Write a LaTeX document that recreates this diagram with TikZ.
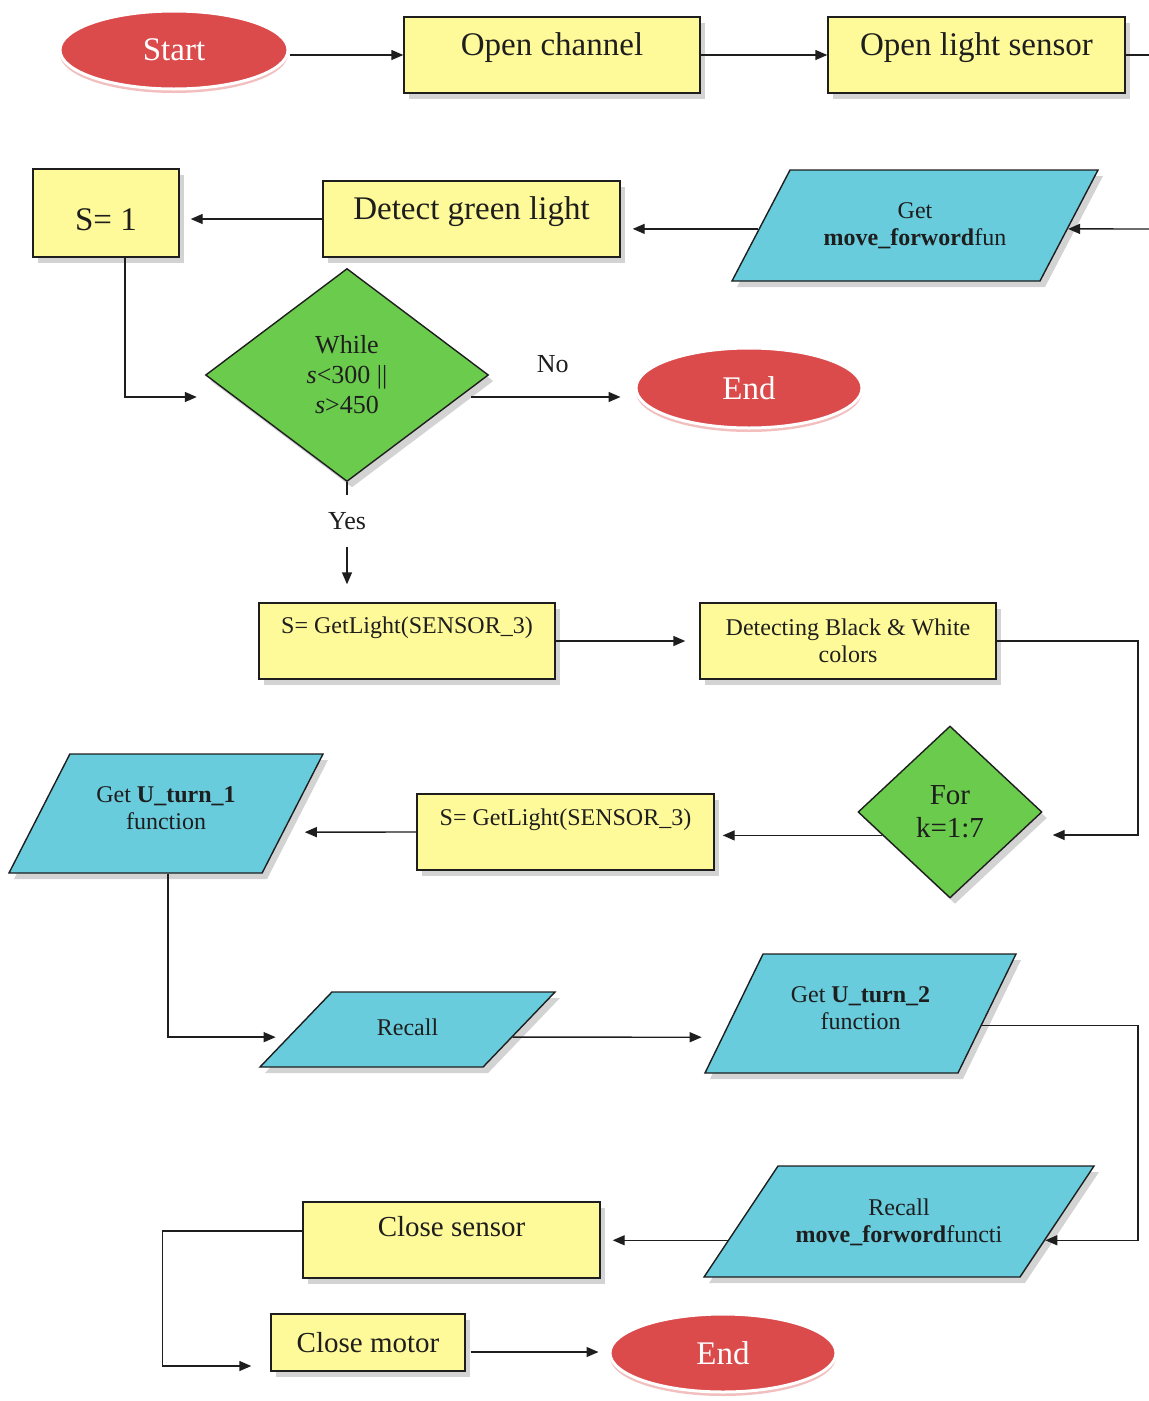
\documentclass[tikz,border=0pt]{standalone}
\usepackage{fontspec}
\setmainfont{Liberation Serif}
\usepackage{xcolor}
\definecolor{SoftYellow}{HTML}{FFFA99}
\definecolor{SkyCyan}{HTML}{68CCDC}
\definecolor{LeafGreen}{HTML}{6BCB4C}
\definecolor{BrickRed}{HTML}{DC4B4B}
\definecolor{InkGray}{HTML}{1E1E1E}
\usetikzlibrary{shapes.geometric, arrows.meta, positioning, calc, shadows}

\tikzset{
    arr/.style={draw=InkGray, line width=1.4pt, -{Triangle[length=12pt,width=10pt]}},
    link/.style={draw=InkGray, line width=1.4pt},
    bigtxt/.style={font=\fontsize{33}{36}\selectfont},
    midtxt/.style={font=\fontsize{29}{33}\selectfont},
    condtxt/.style={font=\fontsize{26}{30}\selectfont},
    smalltxt/.style={font=\fontsize{24}{27}\selectfont},
    procbox/.style={rectangle, draw=InkGray, line width=1.4pt, fill=SoftYellow,
        minimum width=296pt, minimum height=76pt, inner sep=0pt, text=InkGray, align=center,
        drop shadow={shadow xshift=5pt, shadow yshift=-6pt, opacity=0.35}},
    iobox/.style={trapezium, trapezium stretches body=true, draw=InkGray, line width=1.4pt,
        fill=SkyCyan, inner sep=0pt, align=center, text=InkGray, smalltxt,
        drop shadow={shadow xshift=5pt, shadow yshift=-6pt, opacity=0.35}},
    decision/.style={diamond, draw=InkGray, line width=1.4pt, fill=LeafGreen,
        inner sep=0pt, align=center, text=InkGray,
        drop shadow={shadow xshift=5pt, shadow yshift=-6pt, opacity=0.35}},
    terminal/.style={ellipse, fill=BrickRed, draw=white, line width=3pt, text=white, bigtxt,
        minimum width=226pt, minimum height=78pt,
        drop shadow={shadow xshift=0pt, shadow yshift=-4pt, fill=BrickRed!45, opacity=0.8}},
}

\begin{document}
\begin{tikzpicture}[x=1pt, y=-1pt]
    \useasboundingbox (0,0) rectangle (1149,1401);

    % Row 1
    \node[terminal, minimum width=228pt] (start) at (174,50) {Start};
    \node[procbox, bigtxt, text height=20pt, text depth=20pt] (opench) at (552,55) {Open channel};
    \node[procbox, bigtxt, text height=20pt, text depth=20pt, minimum width=297pt] (opensens) at (976.5,55) {Open light sensor};
    \coordinate (edgeA) at (1149,55);
    \coordinate (edgeB) at (1149,229);
    \coordinate (railR) at (1138,0);

    % Row 2
    \node[iobox, trapezium left angle=62.4, trapezium right angle=117.6, text height=75.5pt, text depth=35.5pt,
        minimum width=366pt, minimum height=111pt] (getfwd) at (915,225.5) {Get\\\textbf{move\_forword}fun};
    \node[procbox, bigtxt, text height=20pt, text depth=20pt, minimum width=297pt] (detect) at (471.5,219) {Detect green light};
    \node[procbox, bigtxt, text height=35pt, text depth=0pt, minimum width=146pt, minimum height=88pt] (s1) at (106,213) {S= 1};

    % While loop
    \node[decision, condtxt, minimum width=283pt, minimum height=213pt] (while) at (347,375) {While\\\textit{s}<300 ||\\\textit{s}>450};
    \node[terminal, minimum height=80pt] (end1) at (749,388) {End};
    \node[condtxt, minimum height=51pt, inner sep=0pt, text=InkGray] (yes) at (347,521) {Yes};

    % Sensor reading
    \node[procbox, smalltxt, text height=17pt, text depth=32pt] (getl1) at (407,641) {S= GetLight(SENSOR\_3)};
    \node[procbox, smalltxt] (detbw) at (848,641) {Detecting Black \& White\\colors};
    \node[decision, midtxt, minimum width=184pt, minimum height=172pt] (for) at (950,812) {For\\k=1:7};
    \node[procbox, smalltxt, text height=17pt, text depth=31pt, minimum width=297pt] (getl2) at (565.5,832) {S= GetLight(SENSOR\_3)};
    \node[iobox, trapezium left angle=62.9, trapezium right angle=117.1, text height=75.5pt, text depth=43.5pt,
        minimum width=314pt, minimum height=119pt] (uturn1) at (166,813.5) {Get \textbf{U\_turn\_1}\\function};

    % U turns
    \node[iobox, trapezium left angle=46.2, trapezium right angle=133.8, text height=43pt, text depth=32pt,
        minimum width=295pt, minimum height=75pt] (recall) at (407.5,1029.5) {Recall};
    \node[iobox, trapezium left angle=64, trapezium right angle=116, text height=75.5pt, text depth=43.5pt,
        minimum width=311pt, minimum height=119pt] (uturn2) at (860.5,1013.5) {Get \textbf{U\_turn\_2}\\function};
    \node[iobox, trapezium left angle=56.3, trapezium right angle=123.7, text height=76.5pt, text depth=34.5pt,
        minimum width=390pt, minimum height=111pt] (recfwd) at (899,1221.5) {Recall\\\textbf{move\_forword}functi};

    % Closing
    \node[procbox, midtxt, text height=20pt, text depth=28pt, minimum width=297pt] (closesens) at (451.5,1240) {Close sensor};
    \node[procbox, midtxt, minimum width=194pt, minimum height=57pt] (closemot) at (368,1342.5) {Close motor};
    \node[terminal] (end2) at (723,1353) {End};

    % helper points
    \coordinate (fwdIn) at ($(getfwd.top right corner)!0.53!(getfwd.bottom right corner)$);
    \coordinate (fwdOut) at ($(getfwd.top left corner)!0.53!(getfwd.bottom left corner)$);
    \coordinate (whileIn) at ([yshift=-22pt]while.west);
    \coordinate (whileOut) at ([xshift=-18pt,yshift=-22pt]while.east);
    \coordinate (forIn) at ([yshift=-23pt]for.east);
    \coordinate (forOut) at ($(for.west)!0.27!(for.south)$);
    \coordinate (uOneIn) at ($(uturn1.top right corner)!0.655!(uturn1.bottom right corner)$);
    \coordinate (recallIn) at ($(recall.top left corner)!0.6!(recall.bottom left corner)$);
    \coordinate (recallOut) at ($(recall.top right corner)!0.6!(recall.bottom right corner)$);
    \coordinate (uTwoIn) at ($(uturn2.top left corner)!0.697!(uturn2.bottom left corner)$);
    \coordinate (uTwoOut) at ($(uturn2.top right corner)!0.6!(uturn2.bottom right corner)$);
    \coordinate (recfwdIn) at ($(recfwd.top right corner)!0.667!(recfwd.bottom right corner)$);
    \coordinate (recfwdOut) at ($(recfwd.top left corner)!0.667!(recfwd.bottom left corner)$);
    \coordinate (sensOut) at ([yshift=9pt]closesens.west);
    \coordinate (motIn) at ([yshift=-23.5pt]closemot.west);
    \coordinate (motOut) at ([yshift=-9.5pt]closemot.east);

    % Connectors
    \draw[arr] (start.east |- opench.west) -- (opench.west);
    \draw[arr] (opench.east) -- (opensens.west);
    \draw[link] (opensens.east) -- (edgeA);
    \draw[arr] (edgeB) -- (fwdIn);
    \draw[arr, shorten >=12pt] (fwdOut) -- (fwdOut -| detect.east);
    \draw[arr, shorten >=11pt] (detect.west) -- (detect.west -| s1.east);
    \draw[arr, shorten >=8pt] ([xshift=19pt]s1.south) |- (whileIn);
    \draw[arr, shorten >=14pt] (whileOut) -- (whileOut -| end1.west)
        node[pos=0.5, above=20pt, condtxt, text=InkGray] (no) {No};
    \draw[link] (while.south) -- (yes.north);
    \draw[arr, shorten >=18pt] (yes.south) -- (yes.south |- getl1.north);
    \draw[arr, shorten >=14pt] (getl1.east) -- (detbw.west);
    \draw[arr, shorten >=10pt] (detbw.east) -- (detbw.east -| railR) |- (forIn);
    \draw[arr, shorten >=8pt] (forOut) -- (forOut -| getl2.east);
    \draw[arr, shorten >=21pt] (getl2.west) -- (uOneIn);
    \draw[arr, shorten >=12pt] ([xshift=2pt]uturn1.south) |- (recallIn);
    \draw[arr, shorten >=20pt] (recallOut) -- (uTwoIn);
    \draw[arr] (uTwoOut) -- (uTwoOut -| railR) |- (recfwdIn);
    \draw[arr, shorten >=12pt] (recfwdOut) -- (recfwdOut -| closesens.east);
    \draw[arr, shorten >=19pt] (sensOut) -- ++(-140,0) |- (motIn);
    \draw[arr, shorten <=5pt, shorten >=10pt] (motOut) -- (motOut -| end2.west);
\end{tikzpicture}
\end{document}
